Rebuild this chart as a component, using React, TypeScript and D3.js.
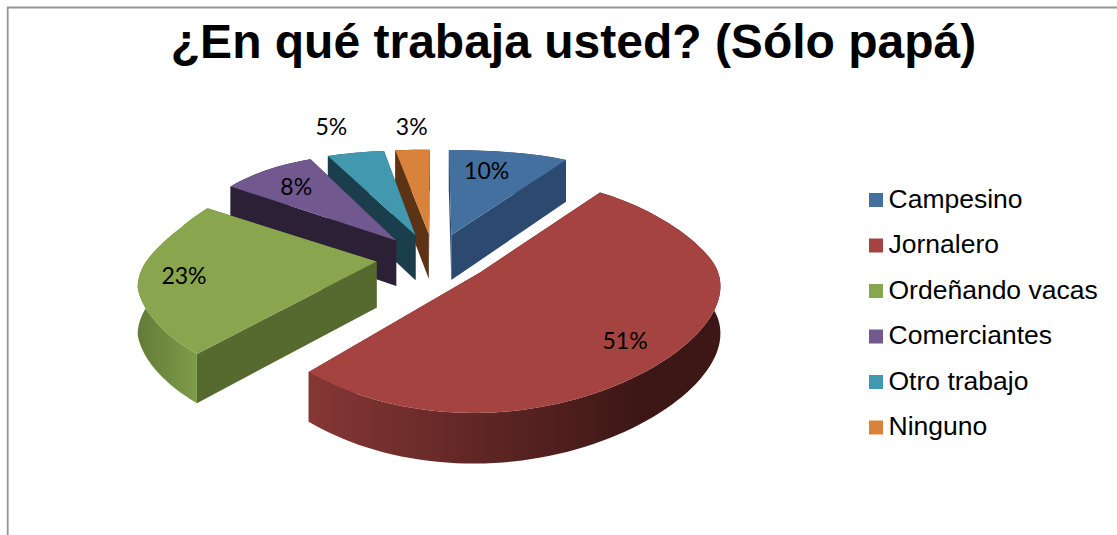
import React from "react";
import * as d3 from "d3";

const title = "¿En qué trabaja usted? (Sólo papá)";
const categories = ["Campesino", "Jornalero", "Ordeñando vacas", "Comerciantes", "Otro trabajo", "Ninguno"];
const values = [10, 51, 23, 8, 5, 3];
const topColors = ["#44709f", "#a54341", "#89a54e", "#71588f", "#4198af", "#d9823c"];
const wallColors = ["#2c4a70", "#5a2220", "#56692f", "#2c2037", "#1b3e4c", "#5c3415"];
const rimLeft = ["#2c4a70", "#853735", "#627b37", "#2c2037", "#1b3e4c", "#5c3415"];
const rimRight = ["#2c4a70", "#3d1716", "#7d9a48", "#2c2037", "#1b3e4c", "#5c3415"];
const labelNudges: [number, number][] = [[-7, 1], [6, 19], [-28, 4], [-7, -2], [-40, -44], [-5, -40]];

const W = 1117, H = 535;
const EXPLODE = 0.25;
const STEP = Math.PI / 90;

const xBase = d3.scaleLinear().domain([0, 1]).range([433, 666]);
function project(u: number, v: number, drop = 0): [number, number] {
  const front = Math.max(0, v);
  const backShift = Math.min(1, Math.max(0, (0.3 - v) / 0.6)) * (1 - 9 * Math.min(u, 0));
  const x = xBase(u * (1 + (33 / 233) * v)) - 9.8 * front * front + backShift;
  const curve =
    v >= 0 ? 90 * v + 27.4 * v * v + 9.6 * v * v * v : 90 * v - 35.1 * v * v - 30.2 * v * v * v;
  const y = 258 + curve + drop * (46 + 4 * v);
  return [x, y];
}

const polar = (a: number, r: number): [number, number] => [r * Math.sin(a), -r * Math.cos(a)];

const pieGen = d3.pie<number>().sort(null).value((d) => d);
const arcs = pieGen(values);
const path = d3.line();

type Slice = {
  i: number; start: number; end: number; mid: number; ox: number; oy: number;
};
const slices: Slice[] = arcs.map((a, i) => {
  const mid = (a.startAngle + a.endAngle) / 2;
  const [ox, oy] = polar(mid, EXPLODE);
  return { i, start: a.startAngle, end: a.endAngle, mid, ox, oy };
});
const order = [...slices].sort((a, b) => a.oy - b.oy);

function rimAngles(s: Slice): number[] {
  const n = Math.max(2, Math.ceil((s.end - s.start) / STEP));
  return d3.range(n + 1).map((k) => s.start + ((s.end - s.start) * k) / n);
}
const rimPoint = (s: Slice, a: number, drop = 0) => {
  const [u, v] = polar(a, 1);
  return project(s.ox + u, s.oy + v, drop);
};

function SliceMarks({ s }: { s: Slice }) {
  const angles = rimAngles(s);
  const apexTop = project(s.ox, s.oy, 0);
  const apexBot = project(s.ox, s.oy, 1);
  const top = [apexTop, ...angles.map((a) => rimPoint(s, a))];
  const wall = (a: number) => path([apexTop, rimPoint(s, a), rimPoint(s, a, 1), apexBot]) + "Z";
  const rimTop = angles.map((a) => rimPoint(s, a));
  const rimBot = angles.map((a) => rimPoint(s, a, 1)).reverse();
  const [x0, x1] = d3.extent(rimTop, (p) => p[0]) as [number, number];
  const gid = `rim-${s.i}`;
  return (
    <g>
      <defs>
        <linearGradient id={gid} gradientUnits="userSpaceOnUse" x1={x0} x2={x1} y1={0} y2={0}>
          <stop offset={0} stopColor={rimLeft[s.i]} />
          <stop offset={0.8} stopColor={rimRight[s.i]} />
        </linearGradient>
      </defs>
      <path d={wall(s.start)} fill={wallColors[s.i]} />
      <path d={wall(s.end)} fill={wallColors[s.i]} />
      <path d={path([...rimTop, ...rimBot]) + "Z"} fill={`url(#${gid})`} />
      <path d={path(top) + "Z"} fill={topColors[s.i]} />
    </g>
  );
}

const legendY = d3.scalePoint<string>().domain(categories).range([200, 427.5]);

export default function App() {
  return (
    <svg
      width={W}
      height={H}
      viewBox={`0 0 ${W} ${H}`}
      style={{ position: "absolute", left: 0, top: 0, display: "block", background: "#fff" }}
    >
      <path d={`M7.7,${H}V7.5H${W}`} fill="none" stroke="#969696" strokeWidth={1.8} />
      <text
        x={573.5}
        y={57.5}
        textAnchor="middle"
        fontFamily="'Liberation Sans', Arial, sans-serif"
        fontWeight="bold"
        fontSize={48}
        fill="#000"
      >
        {title}
      </text>
      {order.map((s) => (
        <SliceMarks key={s.i} s={s} />
      ))}
      {slices.map((s) => {
        const [u, v] = polar(s.mid, 0.95);
        const [x, y] = project(u, v);
        const [dx, dy] = labelNudges[s.i];
        return (
          <text
            key={s.i}
            x={x + dx}
            y={y + dy}
            dy="0.35em"
            textAnchor="middle"
            fontFamily="Lato, sans-serif"
            fontSize={23}
            fill="#000"
          >
            {values[s.i]}%
          </text>
        );
      })}
      {categories.map((c, i) => {
        const y = legendY(c) as number;
        return (
          <g key={c}>
            <rect x={869} y={y - 7} width={14} height={14} fill={topColors[i]} />
            <text
              x={888.5}
              y={y}
              dy="0.3em"
              fontFamily="'Liberation Sans', Arial, sans-serif"
              fontSize={26.5}
              fill="#000"
            >
              {c}
            </text>
          </g>
        );
      })}
    </svg>
  );
}
